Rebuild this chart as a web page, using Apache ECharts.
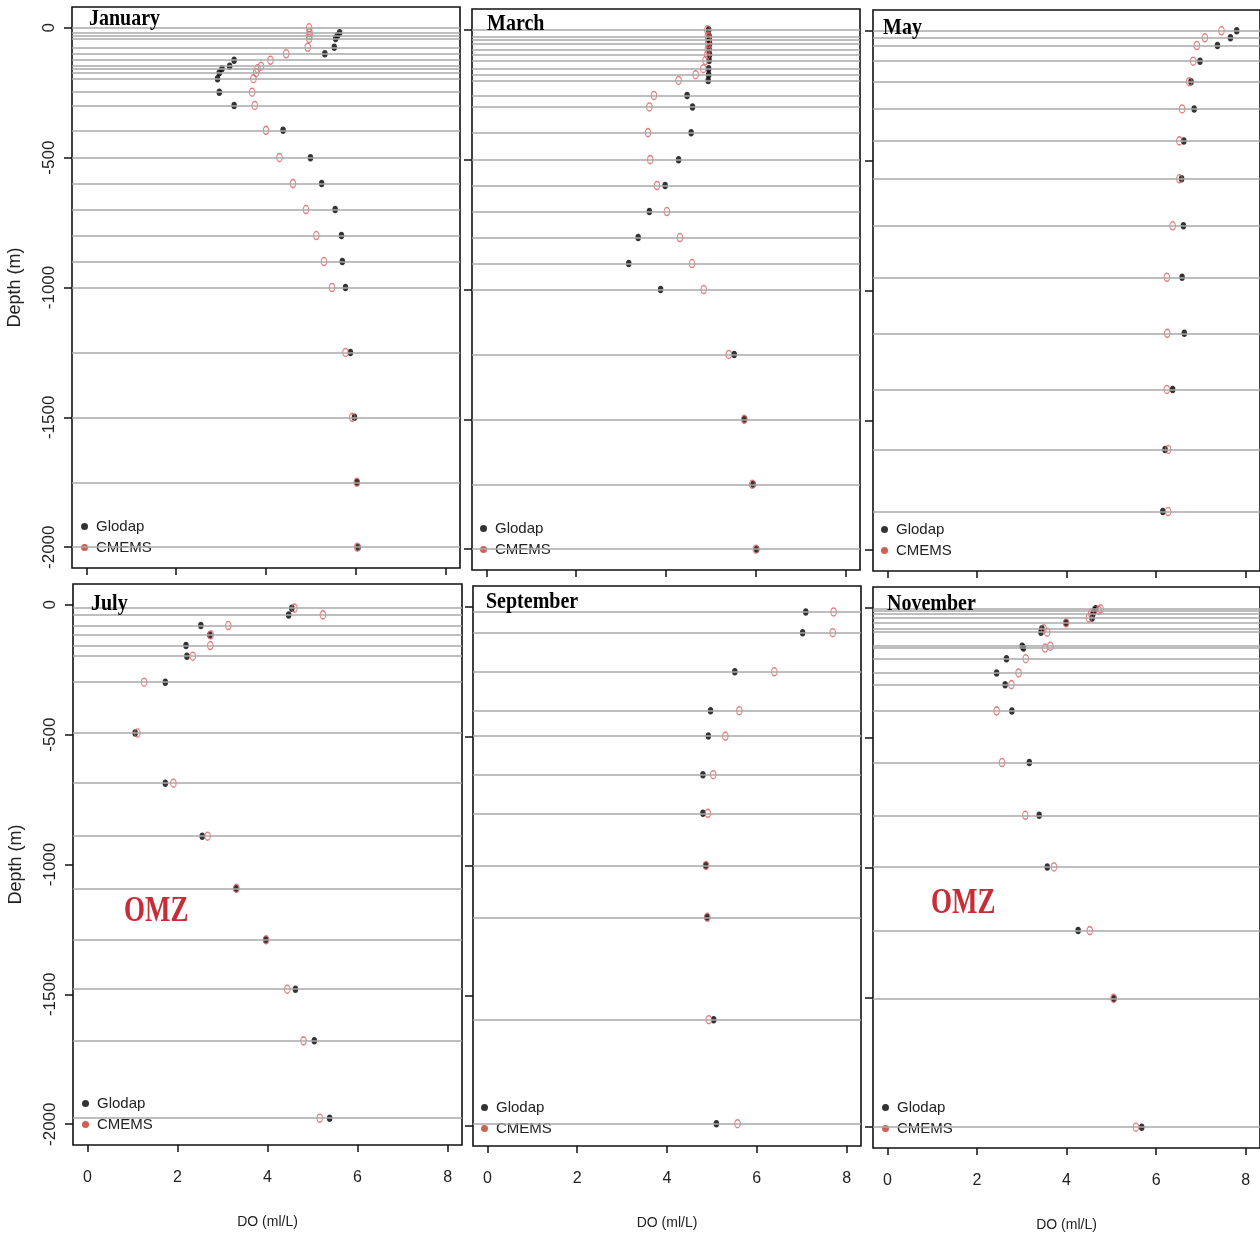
<!DOCTYPE html>
<html>
<head>
<meta charset="utf-8">
<script src="https://cdn.jsdelivr.net/npm/echarts@6/dist/echarts.min.js"></script>
<style>
html,body{margin:0;padding:0;background:#fff;}
#chart{width:1260px;height:1236px;}
</style>
</head>
<body>
<div id="chart"></div>
<script>
// ---------------- DATA ----------------
const panelNames = ['January', 'March', 'May', 'July', 'September', 'November'];
const xTicks = [0, 2, 4, 6, 8];
const yTicks = [0, -500, -1000, -1500, -2000];
const legendNames = ['Glodap', 'CMEMS'];
const omzLabel = 'OMZ';

const janDepth  = [0, -19, -30, -41, -75, -100, -125, -148, -158, -173, -196, -248, -299, -395, -500, -600, -700, -800, -900, -1000, -1250, -1500, -1750, -2000];
const janGlodap = [null, 5.64, 5.59, 5.55, 5.52, 5.31, 3.29, 3.19, 3.02, 2.96, 2.92, 2.96, 3.29, 4.38, 4.99, 5.24, 5.54, 5.68, 5.70, 5.77, 5.88, 5.97, 6.03, 6.05];
const janCmems  = [4.96, 4.97, 4.97, 4.96, 4.93, 4.45, 4.10, 3.89, 3.81, 3.78, 3.72, 3.69, 3.75, 4.00, 4.30, 4.60, 4.89, 5.12, 5.29, 5.47, 5.77, 5.92, 6.02, 6.03];

const marDepth  = [0, -25, -38, -54, -76, -96, -118, -150, -173, -195, -253, -297, -396, -500, -600, -700, -800, -900, -1000, -1250, -1500, -1750, -2000];
const marGlodap = [4.95, 4.96, 4.96, 4.97, 4.96, 4.97, 4.96, 4.95, 4.95, 4.94, 4.47, 4.59, 4.56, 4.28, 3.98, 3.63, 3.38, 3.17, 3.88, 5.52, 5.75, 5.94, 6.02];
const marCmems  = [4.92, 4.93, 4.94, 4.94, 4.93, 4.92, 4.88, 4.83, 4.66, 4.28, 3.73, 3.63, 3.60, 3.65, 3.80, 4.02, 4.31, 4.58, 4.84, 5.40, 5.74, 5.92, 6.00];

const mayDepth  = [0, -27, -57, -117, -196, -301, -424, -570, -751, -949, -1165, -1381, -1612, -1851];
const mayGlodap = [7.80, 7.66, 7.37, 6.98, 6.78, 6.85, 6.62, 6.57, 6.61, 6.58, 6.63, 6.37, 6.20, 6.15];
const mayCmems  = [7.46, 7.09, 6.91, 6.83, 6.74, 6.58, 6.52, 6.52, 6.37, 6.24, 6.25, 6.24, 6.27, 6.27];

const julDepth  = [-13, -39, -80, -116, -157, -198, -298, -494, -687, -891, -1092, -1290, -1480, -1679, -1977];
const julGlodap = [4.54, 4.47, 2.52, 2.72, 2.19, 2.21, 1.73, 1.06, 1.73, 2.55, 3.30, 3.96, 4.62, 5.04, 5.38];
const julCmems  = [4.60, 5.23, 3.13, 2.74, 2.73, 2.34, 1.26, 1.11, 1.91, 2.67, 3.31, 3.97, 4.44, 4.80, 5.16];

const sepDepth  = [-20, -100, -251, -401, -499, -648, -797, -998, -1198, -1593, -1994];
const sepGlodap = [7.09, 7.02, 5.51, 4.97, 4.92, 4.80, 4.80, 4.86, 4.89, 5.04, 5.10];
const sepCmems  = [7.71, 7.69, 6.39, 5.61, 5.30, 5.03, 4.91, 4.87, 4.90, 4.93, 5.57];

const novDepth  = [-4, -10, -22, -39, -58, -81, -94, -148, -155, -196, -251, -296, -397, -596, -799, -998, -1243, -1504, -2000];
const novGlodap = [4.65, 4.62, 4.59, 4.57, 3.99, 3.45, 3.43, 3.01, 3.04, 2.66, 2.44, 2.63, 2.78, 3.17, 3.39, 3.57, 4.26, 5.06, 5.68];
const novCmems  = [4.76, 4.72, 4.55, 4.50, 3.99, 3.49, 3.57, 3.64, 3.52, 3.09, 2.93, 2.77, 2.44, 2.56, 3.08, 3.72, 4.52, 5.05, 5.55];

const panels = [
  {depth: janDepth, glodap: janGlodap, cmems: janCmems},
  {depth: marDepth, glodap: marGlodap, cmems: marCmems},
  {depth: mayDepth, glodap: mayGlodap, cmems: mayCmems},
  {depth: julDepth, glodap: julGlodap, cmems: julCmems},
  {depth: sepDepth, glodap: sepGlodap, cmems: sepCmems},
  {depth: novDepth, glodap: novGlodap, cmems: novCmems}
];

// ---------------- LAYOUT ----------------
const gridBoxes = [
  {left: 72,  top: 7,   width: 388, height: 561},
  {left: 472, top: 9,   width: 388, height: 561},
  {left: 873, top: 10,  width: 388, height: 561},
  {left: 73,  top: 584, width: 389, height: 561},
  {left: 473, top: 586, width: 388, height: 560},
  {left: 873, top: 587, width: 388, height: 561}
];
const legendPos = [
  {left: 81, top: 518}, {left: 480, top: 520}, {left: 881, top: 521},
  {left: 82, top: 1095}, {left: 481, top: 1099}, {left: 882, top: 1099}
];
const titlePos = [
  {x: 89, y: 19}, {x: 487, y: 24}, {x: 883, y: 28},
  {x: 91, y: 604}, {x: 486, y: 602}, {x: 887, y: 604}
];

const sans = '"Liberation Sans", Arial, Helvetica, sans-serif';
const plain = v => String(v);

const grid = [], xAxis = [], yAxis = [], series = [], legend = [], graphic = [];

panels.forEach((p, i) => {
  const g = gridBoxes[i];
  grid.push({left: g.left, top: g.top, width: g.width, height: g.height,
    show: true, borderColor: '#111', borderWidth: 1.6, backgroundColor: 'transparent', containLabel: false});
  const bottomRow = i >= 3;
  const leftCol = (i % 3) === 0;
  xAxis.push({
    type: 'value', gridIndex: i, min: -0.32, max: 8.32, position: 'bottom',
    axisLine: {show: false, onZero: false},
    axisTick: {show: true, inside: false, length: 7, customValues: xTicks, lineStyle: {color: '#111', width: 1.5}},
    axisLabel: {show: bottomRow, customValues: xTicks, formatter: plain, margin: 25, color: '#222', fontSize: 16, fontFamily: sans},
    splitLine: {show: false},
    name: bottomRow ? 'DO (ml/L)' : '', nameLocation: 'middle', nameGap: 70,
    nameTextStyle: {color: '#222', fontSize: 14, fontFamily: sans}
  });
  yAxis.push({
    type: 'value', gridIndex: i, min: -2080, max: 80, position: 'left',
    axisLine: {show: false, onZero: false},
    axisTick: {show: true, inside: false, length: 8, customValues: yTicks, lineStyle: {color: '#111', width: 1.5}},
    axisLabel: {show: leftCol, customValues: yTicks, formatter: plain, rotate: 90, margin: 14, color: '#222', fontSize: 17, fontFamily: sans},
    splitLine: {show: false},
    name: leftCol ? 'Depth (m)' : '', nameLocation: 'middle', nameRotate: 90, nameGap: 48,
    nameTextStyle: {color: '#222', fontSize: 18, fontFamily: sans}
  });
  // horizontal depth-level lines
  series.push({
    type: 'line', name: 'levels' + i, xAxisIndex: i, yAxisIndex: i, data: [], z: 1, silent: true,
    markLine: {symbol: 'none', silent: true, animation: false, label: {show: false},
      lineStyle: {color: '#a9a9a9', width: 1.5, type: 'solid'},
      emphasis: {disabled: true},
      data: p.depth.map(d => ({yAxis: d}))}
  });
  series.push({
    type: 'scatter', name: legendNames[0], xAxisIndex: i, yAxisIndex: i, z: 3,
    symbol: 'circle', symbolSize: [5.5, 7.5],
    itemStyle: {color: '#000'},
    data: p.depth.map((d, k) => [p.glodap[k], d]).filter(v => v[0] != null)
  });
  series.push({
    type: 'scatter', name: legendNames[1], xAxisIndex: i, yAxisIndex: i, z: 4,
    symbol: 'circle', symbolSize: [5.5, 8],
    itemStyle: {color: 'rgba(255,255,255,0)', borderColor: '#e06060', borderWidth: 1.3},
    data: p.depth.map((d, k) => [p.cmems[k], d]).filter(v => v[0] != null)
  });
  legend.push({
    orient: 'vertical', left: legendPos[i].left, top: legendPos[i].top, padding: 0,
    itemWidth: 7, itemHeight: 8, itemGap: 4, selectedMode: false,
    textStyle: {color: '#222', fontSize: 15, lineHeight: 17, fontFamily: sans, padding: [0, 0, 0, 3]},
    data: [
      {name: legendNames[0], icon: 'circle', itemStyle: {color: '#000', borderWidth: 0}},
      {name: legendNames[1], icon: 'circle', itemStyle: {color: '#c0392b', borderWidth: 0}}
    ]
  });
  graphic.push({
    type: 'text', x: titlePos[i].x, y: titlePos[i].y, scaleY: 1.15, silent: true, z: 10,
    style: {text: panelNames[i], font: 'bold 20px "Liberation Serif", "Times New Roman", serif', fill: '#000',
      textAlign: 'left', textVerticalAlign: 'middle', align: 'left', verticalAlign: 'middle'}
  });
});

// OMZ annotations (July and November)
[{x: 124, y: 912}, {x: 931, y: 904}].forEach(pos => {
  graphic.push({
    type: 'text', x: pos.x, y: pos.y, scaleY: 1.3, silent: true, z: 10,
    style: {text: omzLabel, font: 'bold 27px "Liberation Serif", "Times New Roman", serif', fill: '#c62d36',
      textAlign: 'left', textVerticalAlign: 'middle', align: 'left', verticalAlign: 'middle'}
  });
});

const chart = echarts.init(document.getElementById('chart'), null, {renderer: 'canvas'});
chart.setOption({
  animation: false,
  backgroundColor: '#fff',
  grid, xAxis, yAxis, series, legend, graphic
});
</script>
</body>
</html>
